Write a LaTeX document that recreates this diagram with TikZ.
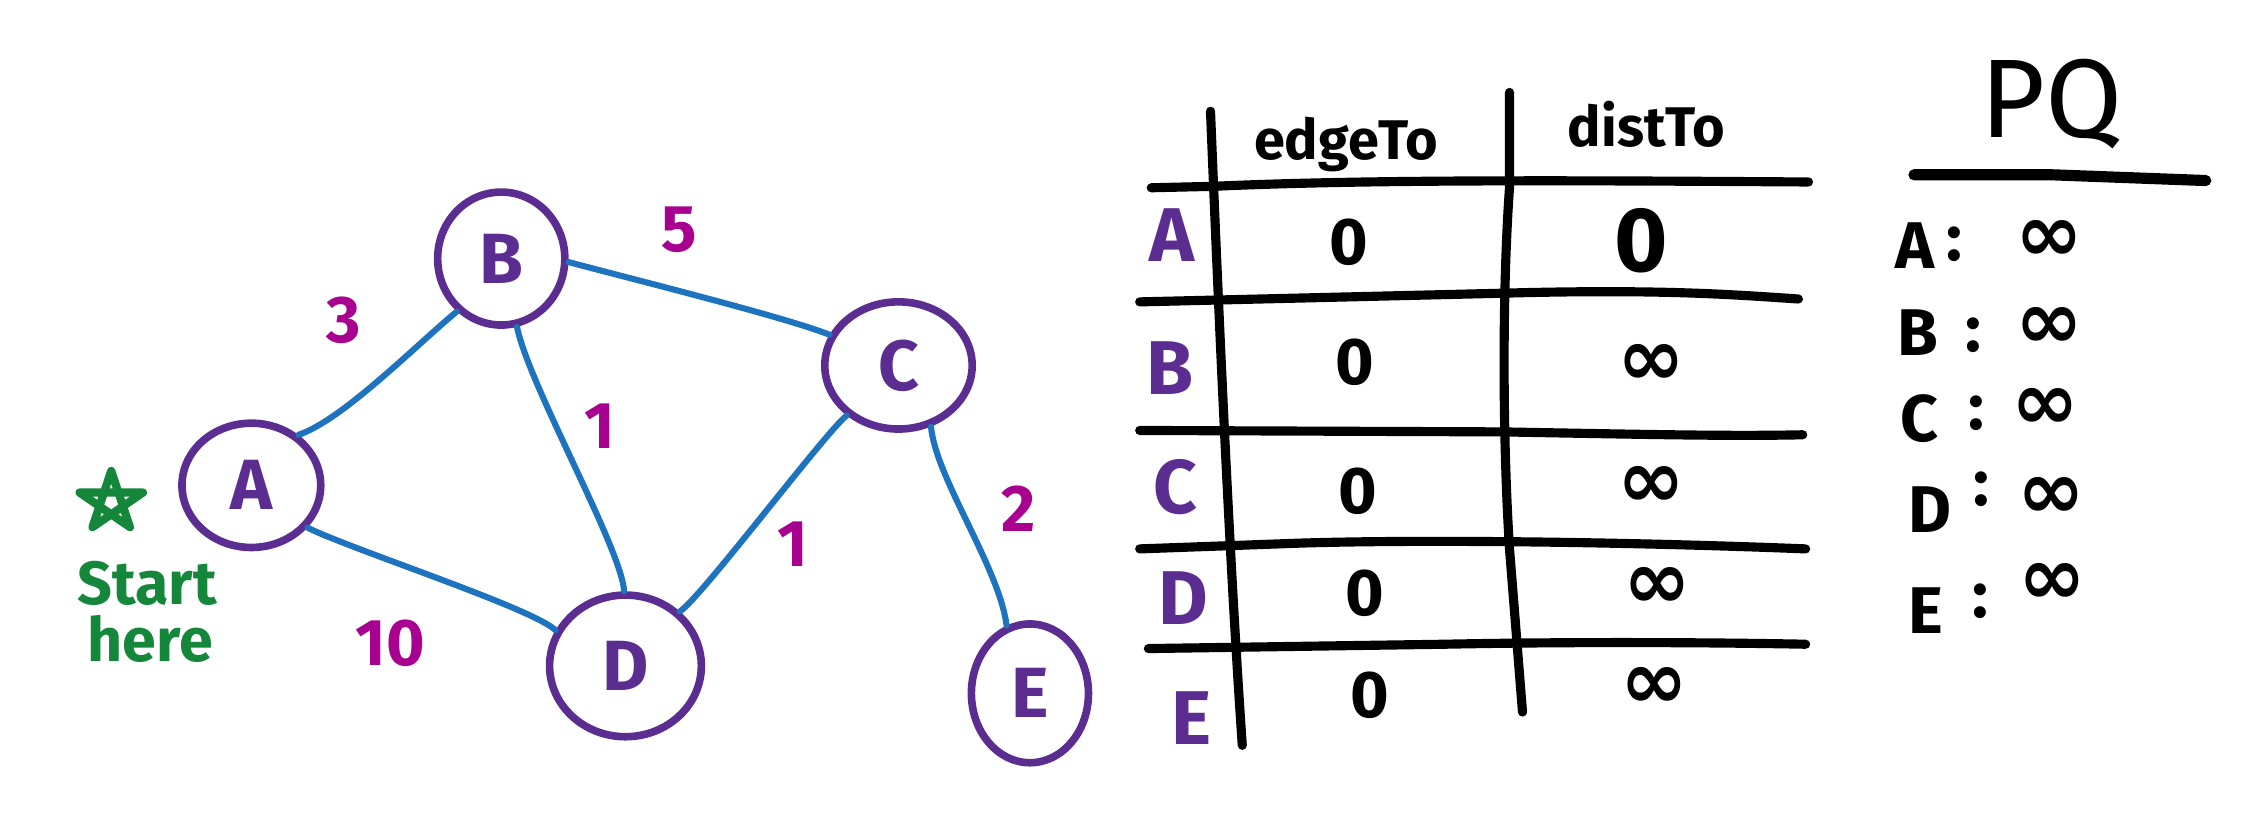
\documentclass[tikz,border=0pt]{standalone}
\usepackage{fontspec}
\setmainfont{Fira Sans}
\newfontfamily\symfont{DejaVu Sans}
\usetikzlibrary{shapes.geometric}

\definecolor{vtxcol}{HTML}{5B2D91}
\definecolor{edgecol}{HTML}{1E73BE}
\definecolor{wtcol}{HTML}{A8008F}
\definecolor{gocol}{HTML}{14873B}

\begin{document}
\begin{tikzpicture}[x=0.01cm,y=-0.01cm,
  vertex/.style={draw=vtxcol, line width=1.5pt, ellipse, inner sep=0pt,
    text=vtxcol, font=\fontsize{14}{14}\selectfont\bfseries},
  link/.style={draw=edgecol, line width=1.2pt, line cap=round},
  weight/.style={text=wtcol, inner sep=0pt, font=\fontsize{13}{13}\selectfont\bfseries},
  note/.style={text=gocol, inner sep=0pt, font=\fontsize{12}{12}\selectfont\bfseries},
  grid/.style={line width=1.8pt, line cap=round},
  head/.style={inner sep=0pt, font=\fontsize{11}{11}\selectfont\bfseries},
  rowlbl/.style={text=vtxcol, inner sep=0pt, font=\fontsize{15}{15}\selectfont\bfseries},
  cell/.style={inner sep=0pt, font=\fontsize{13}{13}\selectfont\bfseries},
  inf/.style={inner sep=0pt, font=\symfont\bfseries\fontsize{16}{16}\selectfont},
  pqtxt/.style={inner sep=0pt, font=\fontsize{13}{13}\selectfont\bfseries},
]
\useasboundingbox (0,0) rectangle (1568,577);

% ---------------- graph ----------------
\node[vertex, minimum width=0.96cm, minimum height=0.86cm] (A) at (174,336) {A};
\node[vertex, minimum width=0.88cm, minimum height=0.92cm] (B) at (347,179) {B};
\node[vertex, minimum width=1.02cm, minimum height=0.88cm] (C) at (622,253) {C};
\node[vertex, minimum width=1.05cm, minimum height=0.98cm] (D) at (433,461) {D};
\node[vertex, minimum width=0.81cm, minimum height=0.96cm] (E) at (713,480) {E};

\draw[link] (A.47)  .. controls +(30,-10) and +(-30,25) .. (B.230);
\draw[link] (B.-3)  .. controls +(45,12)  and +(-30,-12) .. (C.156);
\draw[link] (B.283) .. controls +(8,40)   and +(-2,-30) .. (D.91);
\draw[link] (A.-37) .. controls +(30,15)  and +(-15,-15) .. (D.153);
\draw[link] (C.224) .. controls +(-15,12) and +(15,-10) .. (D.45);
\draw[link] (C.298) .. controls +(3,35)   and +(-5,-40) .. (E.109);

\node[weight] (wAB) at (238,222) {3};
\node[weight] (wBC) at (470,159) {5};
\node[weight] (wBD) at (415,295) {1};
\node[weight] (wCD) at (549,377) {1};
\node[weight] (wCE) at (705,352) {2};
\node[weight] (wAD) at (270,445) {10};

% start marker: a pentagram drawn in one stroke
\draw[gocol, line width=1.6pt, line join=round]
  (77,326) -- (90,365) -- (55,341) -- (99,341) -- (64,365) -- cycle;
\node[note] (start) at (102,404) {Start};
\node[note] (here)  at (104,442) {here};

% ---------------- table ----------------
\draw[grid] (838,77) .. controls (845,250) and (852,400) .. (860,516);
\draw[grid] (1045,64) -- (1045,130) .. controls (1040,200) and (1040,300) .. (1045,380) -- (1054,493);
\draw[grid] (797,130) -- (840,129) .. controls (950,124) and (1100,125) .. (1252,126);
\draw[grid] (789,209) -- (1040,203) .. controls (1150,200) and (1200,204) .. (1245,207);
\draw[grid] (789,298) -- (1040,299) .. controls (1150,301) and (1200,302) .. (1248,301);
\draw[grid] (789,380) -- (900,376) .. controls (1000,373) and (1150,376) .. (1250,380);
\draw[grid] (795,449) -- (1000,446) .. controls (1100,444) and (1200,445) .. (1250,446);

\node[head] (hedge) at (932,100) {edgeTo};
\node[head] (hdist) at (1140,86) {distTo};

\node[rowlbl] (rA) at (811,163) {A};
\node[rowlbl] (rB) at (810,255) {B};
\node[rowlbl] (rC) at (814,337) {C};
\node[rowlbl] (rD) at (819,414) {D};
\node[rowlbl] (rE) at (825,497) {E};

\node[cell] (eA) at (934,168) {0};
\node[cell] (eB) at (938,251) {0};
\node[cell] (eC) at (940,340) {0};
\node[cell] (eD) at (945,411) {0};
\node[cell] (eE) at (948,481) {0};

\node[cell, font=\fontsize{18}{18}\selectfont\bfseries] (dA) at (1136,167) {0};
\node[inf] (dB) at (1143,253) {∞};
\node[inf] (dC) at (1143,337) {∞};
\node[inf] (dD) at (1147,407) {∞};
\node[inf] (dE) at (1145,476) {∞};

% ---------------- priority queue ----------------
\node[inner sep=0pt, font=\fontsize{22}{22}\selectfont] (pq) at (1420,72) {PQ};
\draw[line width=2.2pt, line cap=round] (1325,121) -- (1420,121) -- (1527,125);

\node[pqtxt] (qA) at (1326,170) {A};
\node[pqtxt] (qB) at (1328,230) {B};
\node[pqtxt] (qC) at (1329,290) {C};
\node[pqtxt] (qD) at (1336,353) {D};
\node[pqtxt] (qE) at (1333,423) {E};

\node[pqtxt] (cA) at (1353,169) {:};
\node[pqtxt] (cB) at (1366,232) {:};
\node[pqtxt] (cC) at (1368,286) {:};
\node[pqtxt] (cD) at (1372,339) {:};
\node[pqtxt] (cE) at (1371,416) {:};

\node[inf] (iA) at (1419,167) {∞};
\node[inf] (iB) at (1419,227) {∞};
\node[inf] (iC) at (1416,283) {∞};
\node[inf] (iD) at (1420,345) {∞};
\node[inf] (iE) at (1421,404) {∞};
\end{tikzpicture}
\end{document}
